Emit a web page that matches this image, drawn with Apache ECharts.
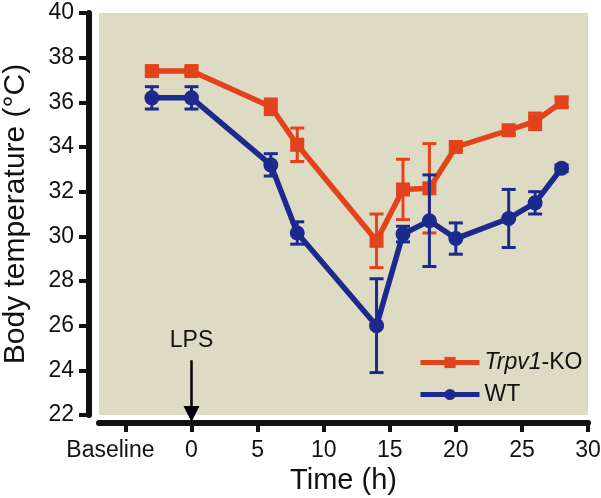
<!DOCTYPE html>
<html><head><meta charset="utf-8">
<script src="https://cdn.jsdelivr.net/npm/echarts@6/dist/echarts.min.js"></script>
<style>html,body{margin:0;padding:0;background:#fff}#c{width:601px;height:498px}</style>
</head><body><div id="c"></div>
<script>
var times = [-3, 0, 6, 8, 14, 16, 18, 20, 24, 26, 28];
var koMean = [37.4, 37.4, 35.8, 34.1, 29.8, 32.1, 32.15, 34.0, 34.75, 35.15, 36.0];
var koErr  = [0.15, 0.15, 0.35, 0.75, 1.2, 1.35, 2.0, 0.15, 0.2, 0.37, 0.2];
var wtMean = [36.2, 36.2, 33.2, 30.15, 26.0, 30.1, 30.7, 29.9, 30.8, 31.5, 33.05];
var wtErr  = [0.5, 0.5, 0.5, 0.5, 2.1, 0.35, 2.05, 0.7, 1.3, 0.5, 0.15];
var xTicks = [-5, 0, 5, 10, 15, 20, 25, 30];
var xTickLabels = ['Baseline', '0', '5', '10', '15', '20', '25', '30'];
var yTicks = [22, 24, 26, 28, 30, 32, 34, 36, 38, 40];
var lpsTime = 0, lpsTextTemp = 25.35, lpsArrowTop = 24.45, lpsArrowTip = 22.05;

var KO = '#e3431a', WT = '#1b2a8c';
var FONT = '"Liberation Sans", Arial, Helvetica, sans-serif';

function pts(m){ return times.map(function(t,i){ return [t, m[i]]; }); }
function errs(m,e){ return times.map(function(t,i){ return [t, m[i]-e[i], m[i]+e[i]]; }); }
function errSeries(m, e, color, z){
  return {
    type: 'custom', silent: true, data: errs(m, e), z: z,
    renderItem: function(params, api){
      var lo = api.coord([api.value(0), api.value(1)]);
      var hi = api.coord([api.value(0), api.value(2)]);
      var w = 7;
      var st = {stroke: color, lineWidth: 3};
      return {type: 'group', children: [
        {type:'line', shape:{x1:lo[0], y1:lo[1], x2:hi[0], y2:hi[1]}, style: st},
        {type:'line', shape:{x1:lo[0]-w, y1:lo[1], x2:lo[0]+w, y2:lo[1]}, style: st},
        {type:'line', shape:{x1:hi[0]-w, y1:hi[1], x2:hi[0]+w, y2:hi[1]}, style: st}
      ]};
    }
  };
}

var chart = echarts.init(document.getElementById('c'), null, {renderer: 'canvas'});
chart.setOption({
  animation: false,
  textStyle: {fontFamily: FONT},
  grid: {left: 99, right: 13, top: 13, bottom: 83, show: true, backgroundColor: '#dddbc4', borderWidth: 0,
    containLabel: false, outerBoundsMode: 'none'},
  xAxis: {
    type: 'value', min: -7, max: 30, offset: 8,
    name: 'Time (h)', nameLocation: 'middle', nameGap: 42,
    nameTextStyle: {fontSize: 29, color: '#111', fontFamily: FONT},
    axisLine: {show: true, onZero: false, lineStyle: {color: '#111', width: 6}},
    axisTick: {show: true, customValues: xTicks, length: 9, lineStyle: {color: '#111', width: 4}},
    axisLabel: {customValues: xTicks, fontSize: 23, color: '#111', margin: 16, fontFamily: FONT,
      rich: {b: {fontSize: 23, color: '#111', fontFamily: FONT, padding: [0, 30, 0, 0]}},
      formatter: function(v){ var i = xTicks.indexOf(v); if (i < 0) return ''; return i === 0 ? '{b|' + xTickLabels[i] + '}' : xTickLabels[i]; }},
    splitLine: {show: false}
  },
  yAxis: {
    type: 'value', min: 22, max: 40, offset: 10,
    name: 'Body temperature (°C)', nameLocation: 'middle', nameGap: 58, nameRotate: 90,
    nameTextStyle: {fontSize: 30, color: '#111', fontFamily: FONT},
    axisLine: {show: true, onZero: false, lineStyle: {color: '#111', width: 6}},
    axisTick: {show: true, customValues: yTicks, length: 10, lineStyle: {color: '#111', width: 4}},
    axisLabel: {customValues: yTicks, fontSize: 23, color: '#111', margin: 15, fontFamily: FONT},
    splitLine: {show: false}
  },
  legend: {
    data: ['Trpv1-KO', 'WT'], orient: 'vertical', left: 413, top: 346,
    itemWidth: 59, itemHeight: 14, itemGap: 9,
    lineStyle: {width: 5},
    textStyle: {fontSize: 23, color: '#111', fontFamily: FONT, rich: {i: {fontStyle: 'italic', fontSize: 23, color: '#111', fontFamily: FONT}}},
    formatter: function(n){ return n === 'Trpv1-KO' ? '{i|Trpv1}-KO' : n; }
  },
  series: [
    {name: 'Trpv1-KO', type: 'line', data: pts(koMean), symbol: 'rect', symbolSize: 14,
      lineStyle: {color: KO, width: 5.5}, itemStyle: {color: KO}, z: 2},
    errSeries(koMean, koErr, KO, 3),
    {name: 'WT', type: 'line', data: pts(wtMean), symbol: 'circle', symbolSize: 15,
      lineStyle: {color: WT, width: 5.5}, itemStyle: {color: WT}, z: 4},
    errSeries(wtMean, wtErr, WT, 5),
    {name: 'annot', type: 'scatter', data: [], silent: true,
      markLine: {silent: true, symbol: ['none', 'triangle'], symbolSize: 16, label: {show: false},
        lineStyle: {color: '#000', width: 2.5, type: 'solid'},
        data: [[{coord: [lpsTime, lpsArrowTop]}, {coord: [lpsTime, lpsArrowTip]}]]},
      markPoint: {silent: true, symbol: 'circle', symbolSize: 0,
        label: {show: true, position: 'inside', formatter: 'LPS', fontSize: 23, color: '#111', fontFamily: FONT},
        data: [{coord: [lpsTime, lpsTextTemp]}]}
    }
  ]
});
</script></body></html>
